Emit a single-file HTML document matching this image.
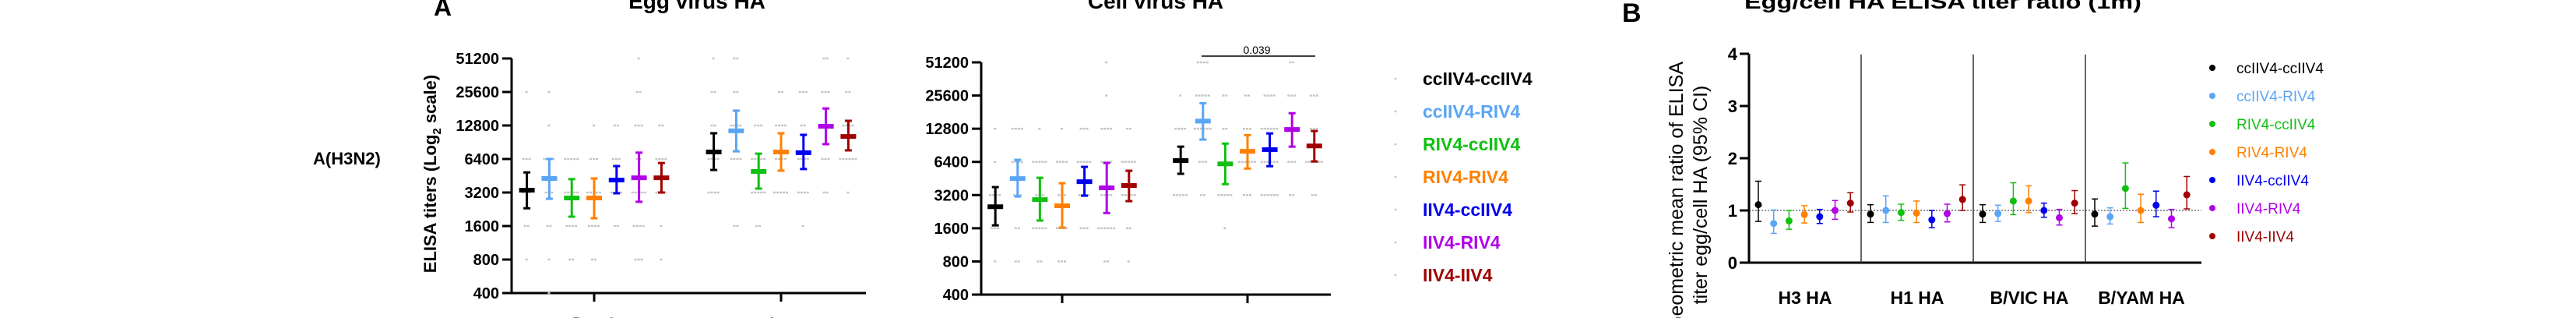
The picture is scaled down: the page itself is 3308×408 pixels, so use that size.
<!DOCTYPE html>
<html><head><meta charset="utf-8"><style>
html,body{margin:0;padding:0;background:#fff;width:3308px;height:408px;overflow:hidden}
svg{display:block;overflow:hidden}
text{font-family:"Liberation Sans",Arial,sans-serif}
</style></head><body>
<svg id="chart" width="3308" height="408" viewBox="0 0 3308 408" xmlns="http://www.w3.org/2000/svg">
<g id="static">
<text x="557" y="20" font-size="32" font-weight="bold">A</text>
<text x="2083" y="28" font-size="34" font-weight="bold">B</text>
<text x="895" y="11" font-size="28" font-weight="bold" text-anchor="middle">Egg virus HA</text>
<text x="1484" y="11" font-size="28" font-weight="bold" text-anchor="middle">Cell virus HA</text>
<text x="2495" y="11" font-size="25" font-weight="bold" text-anchor="middle" textLength="510" lengthAdjust="spacingAndGlyphs">Egg/cell HA ELISA titer ratio (1m)</text>
<text x="402" y="211" font-size="22" font-weight="bold">A(H3N2)</text>
<text transform="translate(560,223) rotate(-90)" font-size="22" font-weight="bold" text-anchor="middle">ELISA titers (Log<tspan font-size="15" dy="6">2</tspan><tspan dy="-6"> scale)</tspan></text>
<text transform="translate(2161,252) rotate(-90)" font-size="25" text-anchor="middle">Geometric mean ratio of  ELISA</text>
<text transform="translate(2192,250) rotate(-90)" font-size="25" text-anchor="middle">titer egg/cell HA (95% CI)</text>
<line x1="1543" y1="72" x2="1689" y2="72" stroke="#000" stroke-width="1.5"/>
<text x="1614" y="69" font-size="14" text-anchor="middle">0.039</text>
</g>
</svg>
<script>
const groups = ["ccIIV4-ccIIV4","ccIIV4-RIV4","RIV4-ccIIV4","RIV4-RIV4","IIV4-ccIIV4","IIV4-RIV4","IIV4-IIV4"];
const colors = ["#000000","#5aa5f5","#10c010","#ff8000","#0000f0","#b000e8","#a00000"];
const timepoints = ["Day 0","1 m"];
const titerTicks = [400,800,1600,3200,6400,12800,25600,51200];
const dotLevels = [400,800,1600,3200,6400,12800,25600,51200];
const eggDay0Mean = [3360,4280,2860,2860,4140,4340,4340];
const eggDay0Lo = [2310,2810,1940,1880,3150,2640,3200];
const eggDay0Hi = [4850,6400,4220,4280,5530,7300,5890];
const egg1mMean = [7400,11450,4950,7400,7300,12600,10200];
const egg1mLo = [5100,7500,3470,5030,5200,8700,7650];
const egg1mHi = [10900,17400,7150,10900,10550,18200,14100];
const cellDay0Mean = [2510,4520,2910,2560,4230,3720,3910];
const cellDay0Lo = [1700,3110,1880,1620,3160,2200,2820];
const cellDay0Hi = [3780,6680,4590,4100,5770,6260,5320];
const cell1mMean = [6580,15000,6140,7990,8270,12600,8930];
const cell1mLo = [4990,10200,4020,5570,5850,8800,6460];
const cell1mHi = [8800,21800,9380,11200,11600,17700,12200];
const eggDay0Dots = [[0,1,2,3,3,0,1,0],[1,1,2,3,4,1,1,0],[0,2,4,5,5,0,0,0],[0,2,4,5,3,1,0,0],[0,0,2,4,3,2,0,0],[0,3,4,5,2,3,2,1],[0,1,1,4,4,2,0,0]];
const egg1mDots = [[0,0,0,4,4,2,2,1],[0,0,2,0,4,4,2,2],[0,0,2,5,5,3,0,0],[0,0,0,5,4,4,2,0],[0,0,1,4,4,2,3,0],[0,0,0,2,3,4,3,2],[0,0,0,1,6,4,2,1]];
const cellDay0Dots = [[0,1,3,4,1,1,0,0],[0,2,2,3,4,4,0,0],[0,2,5,3,5,1,0,0],[0,3,4,3,4,1,0,0],[0,0,3,4,5,3,0,0],[0,2,6,4,4,4,1,1],[0,1,2,5,5,2,0,0]];
const cell1mDots = [[0,0,0,5,0,4,1,0],[0,0,0,2,3,6,5,4],[0,0,1,5,0,2,2,0],[0,0,0,3,6,3,2,0],[0,0,0,6,6,6,4,0],[0,0,0,2,3,0,3,2],[0,0,0,2,6,3,3,0]];
const ratioCats = ["H3 HA","H1 HA","B/VIC HA","B/YAM HA"];
const ratioTicks = [0,1,2,3,4];
const ratioH3 = [1.11,0.75,0.80,0.92,0.88,1.00,1.14];
const ratioH3Lo = [0.79,0.56,0.64,0.76,0.75,0.83,0.97];
const ratioH3Hi = [1.56,1.01,1.00,1.09,1.02,1.19,1.34];
const ratioH1 = [0.93,1.00,0.96,0.95,0.82,0.94,1.21];
const ratioH1Lo = [0.77,0.77,0.81,0.77,0.67,0.78,1.00];
const ratioH1Hi = [1.11,1.28,1.12,1.18,1.00,1.12,1.49];
const ratioVic = [0.93,0.94,1.18,1.18,1.00,0.86,1.14];
const ratioVicLo = [0.77,0.79,0.92,0.96,0.87,0.72,0.94];
const ratioVicHi = [1.11,1.10,1.53,1.47,1.14,1.02,1.38];
const ratioYam = [0.93,0.88,1.42,1.00,1.10,0.84,1.30];
const ratioYamLo = [0.70,0.74,1.04,0.77,0.88,0.67,1.03];
const ratioYamHi = [1.22,1.05,1.91,1.31,1.37,1.02,1.65];

const svg = document.getElementById('chart');
const NS = 'http://www.w3.org/2000/svg';
function mk(tag, attrs, parent){const e=document.createElementNS(NS,tag);for(const k in attrs)e.setAttribute(k,attrs[k]);(parent||svg).appendChild(e);return e;}

function titerPanel(cfg){
  const y = v => cfg.y400 - (cfg.y400-cfg.y51200)/7*Math.log2(v/400);
  const g = mk('g',{});
  
  
  const ya = mk('line',{x1:cfg.ax,y1:y(51200),x2:cfg.ax,y2:y(400)+1.5,stroke:'#000','stroke-width':3},g);
  
  
  const xa = mk('line',{x1:cfg.ax-12,y1:y(400),x2:cfg.axEnd,y2:y(400),stroke:'#000','stroke-width':3},g);
  
  
  titerTicks.forEach(t=>{
    const tk = mk('line',{x1:cfg.ax-12,y1:y(t),x2:cfg.ax,y2:y(t),stroke:'#000','stroke-width':3},g);
    
    
    const tl = mk('text',{x:cfg.ax-16,y:y(t)+7,'font-size':20,'font-weight':'bold','text-anchor':'end'},g);
    tl.textContent = t;
    
    
  });
  cfg.sets.forEach((s,ti)=>{
    const tx = cfg.tickX[ti];
    const tk = mk('line',{x1:tx,y1:y(400),x2:tx,y2:y(400)+11,stroke:'#000','stroke-width':3},g);
    
    
    const tl = mk('text',{x:tx,y:y(400)+46,'font-size':21,'font-weight':'bold','text-anchor':'middle'},g);
    tl.textContent = timepoints[ti];
    
    
    groups.forEach((gr,i)=>{
      const cx = tx + (i-3)*cfg.sp;
      s.dots[i].forEach((n,li)=>{
        for(let k=0;k<n;k++){
          const d = mk('rect',{x:cx-n*2+k*4,y:y(dotLevels[li])-1.2,width:3,height:2.4,fill:'#c4c4c4'},g);
          
          
        }
      });
      const eb = mk('g',{stroke:colors[i]},g);
      
      
      mk('line',{x1:cx,y1:y(s.hi[i]),x2:cx,y2:y(s.lo[i]),'stroke-width':3},eb);
      mk('line',{x1:cx-4.5,y1:y(s.hi[i]),x2:cx+4.5,y2:y(s.hi[i]),'stroke-width':3},eb);
      mk('line',{x1:cx-4.5,y1:y(s.lo[i]),x2:cx+4.5,y2:y(s.lo[i]),'stroke-width':3},eb);
      const m = mk('line',{x1:cx-10,y1:y(s.mean[i]),x2:cx+10,y2:y(s.mean[i]),'stroke-width':6},g);
      m.setAttribute('stroke',colors[i]);
      
      
    });
  });
}
titerPanel({name:'egg-virus-chart',ax:657,axEnd:1112,y400:376,y51200:75,tickX:[763,1003],sp:28.8,
  sets:[{mean:eggDay0Mean,lo:eggDay0Lo,hi:eggDay0Hi,dots:eggDay0Dots},{mean:egg1mMean,lo:egg1mLo,hi:egg1mHi,dots:egg1mDots}]});
titerPanel({name:'cell-virus-chart',ax:1260,axEnd:1709,y400:378,y51200:80,tickX:[1364,1602],sp:28.6,
  sets:[{mean:cellDay0Mean,lo:cellDay0Lo,hi:cellDay0Hi,dots:cellDay0Dots},{mean:cell1mMean,lo:cell1mLo,hi:cell1mHi,dots:cell1mDots}]});

groups.forEach((gr,i)=>{
  const yy = 101 + i*42;
  const d = mk('circle',{cx:1792,cy:yy,r:1.3,fill:'#bbb'});
  
  
  const t = mk('text',{x:1827,y:yy+8,'font-size':23,'font-weight':'bold',fill:colors[i]});
  t.textContent = gr;
  
  
});

(function(){
  const ax=2246, axEnd=2827, y0=337, y4=69;
  const y = v => y0 - (y0-y4)/4*v;
  const gw = 144;
  const g = mk('g',{});
  
  
  const ref = mk('line',{x1:ax,y1:y(1),x2:axEnd,y2:y(1),stroke:'#555','stroke-width':1.2,'stroke-dasharray':'2,2'},g);
  
  
  const ya = mk('line',{x1:ax,y1:y4,x2:ax,y2:y0,stroke:'#000','stroke-width':3},g);
  
  
  const xa = mk('line',{x1:ax-12,y1:y0,x2:axEnd,y2:y0,stroke:'#000','stroke-width':3},g);
  
  
  ratioTicks.forEach(t=>{
    const tk = mk('line',{x1:ax-12,y1:y(t),x2:ax,y2:y(t),stroke:'#000','stroke-width':3},g);
    
    
    const tl = mk('text',{x:ax-15,y:y(t)+8,'font-size':22,'font-weight':'bold','text-anchor':'end'},g);
    tl.textContent = t;
    
    
  });
  const sets = [[ratioH3,ratioH3Lo,ratioH3Hi],[ratioH1,ratioH1Lo,ratioH1Hi],[ratioVic,ratioVicLo,ratioVicHi],[ratioYam,ratioYamLo,ratioYamHi]];
  sets.forEach((s,ci)=>{
    const gx = ax + ci*gw;
    if(ci>0){
      const sep = mk('line',{x1:gx,y1:y4+1,x2:gx,y2:y0,stroke:'#333','stroke-width':1.5},g);
      
      
    }
    const cl = mk('text',{x:gx+gw/2,y:390,'font-size':23,'font-weight':'bold','text-anchor':'middle'},g);
    cl.textContent = ratioCats[ci];
    
    
    groups.forEach((gr,i)=>{
      const cx = gx + 12 + i*19.7;
      const eb = mk('g',{stroke:colors[i],'stroke-width':1.5},g);
      
      
      mk('line',{x1:cx,y1:y(s[2][i]),x2:cx,y2:y(s[1][i])},eb);
      mk('line',{x1:cx-4,y1:y(s[2][i]),x2:cx+4,y2:y(s[2][i])},eb);
      mk('line',{x1:cx-4,y1:y(s[1][i]),x2:cx+4,y2:y(s[1][i])},eb);
      const p = mk('circle',{cx:cx,cy:y(s[0][i]),r:4.5,fill:colors[i]},g);
      
      
    });
  });
  groups.forEach((gr,i)=>{
    const yy = 87 + i*36;
    const d = mk('circle',{cx:2841,cy:yy,r:4,fill:colors[i]});
    
    
    const t = mk('text',{x:2872,y:yy+7,'font-size':19,fill:colors[i]});
    t.textContent = gr;
    
    
  });
})();
</script>
</body></html>
